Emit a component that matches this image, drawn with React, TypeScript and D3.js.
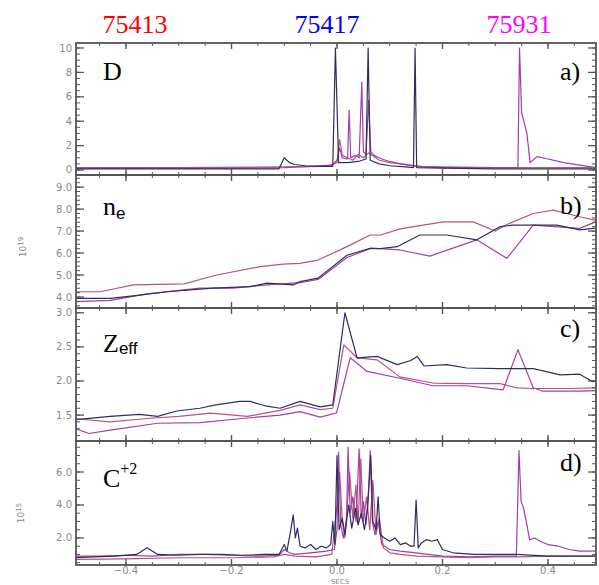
import * as d3 from "d3";

type Pt = [number, number];

// shot numbers shown at the top, and the colours used for them
const shots = ["75413", "75417", "75931"];
const shotColors = ["#ff0000", "#0000ff", "#ff00ff"];
const lineColors = ["#b8557f", "#2e2e60", "#a23ea8"];

const timeTicks = [-0.4, -0.2, 0.0, 0.2, 0.4];
const dTicks = [0, 2, 4, 6, 8, 10];
const neTicks = [4, 5, 6, 7, 8, 9];
const zTicks = [1.5, 2.0, 2.5, 3.0];
const cTicks = [2, 4, 6];

// a) D-alpha  [time s, value]
const d413: Pt[] = [
  [-0.5, 0.2], [-0.3, 0.2], [-0.1, 0.25], [-0.02, 0.3], [0.0, 0.6], [0.005, 2.5], [0.01, 1.2],
  [0.02, 1.0], [0.03, 0.8], [0.04, 1.3], [0.05, 1.0], [0.06, 1.4], [0.07, 1.1], [0.08, 0.8],
  [0.1, 0.6], [0.12, 0.5], [0.14, 0.4], [0.16, 0.3], [0.2, 0.25], [0.3, 0.2], [0.49, 0.2],
];
const d417: Pt[] = [
  [-0.5, 0.1], [-0.3, 0.1], [-0.11, 0.1], [-0.1, 1.0], [-0.095, 0.8], [-0.09, 0.6], [-0.08, 0.45],
  [-0.06, 0.35], [-0.03, 0.3], [-0.008, 0.3], [-0.003, 10], [0.003, 0.6], [0.02, 0.6], [0.04, 0.7],
  [0.055, 0.9], [0.059, 10], [0.063, 0.8], [0.08, 0.5], [0.1, 0.35], [0.13, 0.25], [0.145, 0.2],
  [0.148, 10], [0.151, 0.2], [0.2, 0.15], [0.3, 0.1], [0.49, 0.1],
];
const d931: Pt[] = [
  [-0.5, 0.15], [-0.2, 0.15], [-0.1, 0.2], [-0.05, 0.3], [-0.01, 0.4], [0.0, 0.8], [0.005, 1.8],
  [0.01, 1.0], [0.02, 0.9], [0.023, 4.9], [0.026, 1.0], [0.035, 1.2], [0.042, 1.0], [0.047, 7.2],
  [0.05, 1.5], [0.055, 1.3], [0.06, 5.7], [0.064, 1.5], [0.07, 1.2], [0.085, 0.9], [0.1, 0.7],
  [0.12, 0.5], [0.15, 0.3], [0.2, 0.2], [0.343, 0.2], [0.346, 10], [0.35, 4.7], [0.36, 3.0],
  [0.366, 0.6], [0.379, 1.1], [0.4, 0.9], [0.43, 0.6], [0.46, 0.4], [0.49, 0.2],
];

// b) n_e (10^19)
const ne413: Pt[] = [
  [-0.5, 4.24], [-0.449, 4.24], [-0.386, 4.55], [-0.29, 4.6], [-0.228, 5.0], [-0.146, 5.38],
  [-0.102, 5.5], [-0.07, 5.53], [-0.036, 5.68], [0.025, 6.36], [0.063, 6.82], [0.082, 6.82],
  [0.12, 7.1], [0.201, 7.42], [0.258, 7.42], [0.3, 7.0], [0.322, 7.3], [0.372, 7.8], [0.41, 7.95],
  [0.46, 7.65], [0.49, 7.5],
];
const ne417: Pt[] = [
  [-0.5, 3.94], [-0.43, 3.94], [-0.386, 4.05], [-0.322, 4.24], [-0.235, 4.4], [-0.165, 4.47],
  [-0.133, 4.63], [-0.083, 4.55], [-0.07, 4.7], [-0.036, 4.86], [0.019, 5.9], [0.063, 6.22],
  [0.082, 6.2], [0.114, 6.29], [0.157, 6.82], [0.208, 6.82], [0.265, 6.6], [0.309, 7.2],
  [0.334, 7.27], [0.417, 7.27], [0.46, 7.05], [0.49, 7.13],
];
const ne931: Pt[] = [
  [-0.5, 3.79], [-0.43, 3.85], [-0.36, 4.14], [-0.26, 4.4], [-0.197, 4.4], [-0.133, 4.55],
  [-0.083, 4.63], [-0.07, 4.65], [-0.036, 4.8], [0.019, 5.8], [0.063, 6.2], [0.082, 6.2],
  [0.119, 6.14], [0.176, 5.86], [0.265, 6.6], [0.322, 5.76], [0.372, 7.27], [0.46, 7.12], [0.49, 7.42],
];

// c) Z_eff
const z413: Pt[] = [
  [-0.5, 1.45], [-0.43, 1.4], [-0.36, 1.45], [-0.3, 1.48], [-0.24, 1.53], [-0.17, 1.48],
  [-0.108, 1.57], [-0.07, 1.65], [-0.032, 1.58], [-0.008, 1.6], [0.013, 2.53], [0.038, 2.34],
  [0.076, 2.31], [0.119, 2.06], [0.182, 1.97], [0.246, 1.96], [0.309, 1.96], [0.341, 1.9],
  [0.372, 1.89], [0.44, 1.89], [0.49, 1.9],
];
const z417: Pt[] = [
  [-0.5, 1.43], [-0.43, 1.48], [-0.375, 1.51], [-0.34, 1.48], [-0.304, 1.56], [-0.26, 1.6],
  [-0.23, 1.65], [-0.184, 1.7], [-0.165, 1.7], [-0.133, 1.63], [-0.108, 1.6], [-0.07, 1.7],
  [-0.032, 1.62], [-0.008, 1.65], [0.015, 3.0], [0.038, 2.34], [0.076, 2.36], [0.114, 2.24],
  [0.14, 2.3], [0.152, 2.36], [0.165, 2.22], [0.208, 2.24], [0.246, 2.19], [0.309, 2.18],
  [0.372, 2.18], [0.423, 2.09], [0.46, 2.1], [0.485, 1.99], [0.49, 2.0],
];
const z931: Pt[] = [
  [-0.5, 1.31], [-0.47, 1.23], [-0.43, 1.28], [-0.34, 1.38], [-0.26, 1.39], [-0.18, 1.45],
  [-0.108, 1.5], [-0.07, 1.55], [-0.032, 1.47], [-0.001, 1.53], [0.025, 2.34], [0.057, 2.14],
  [0.119, 2.04], [0.182, 1.93], [0.246, 1.93], [0.315, 1.87], [0.343, 2.46], [0.372, 1.9],
  [0.39, 1.85], [0.46, 1.85], [0.49, 1.86],
];

// d) C+2 (10^15)
const c413: Pt[] = [
  [-0.5, 0.7], [-0.44, 0.72], [-0.38, 0.75], [-0.3, 0.8], [-0.2, 0.8], [-0.12, 0.85], [-0.1, 1.0],
  [-0.08, 0.9], [-0.04, 0.85], [-0.01, 1.0], [0.0, 4.0], [0.005, 6.0], [0.01, 3.0], [0.015, 2.0],
  [0.024, 6.0], [0.03, 3.2], [0.036, 5.2], [0.04, 2.8], [0.045, 6.8], [0.05, 3.0], [0.056, 4.5],
  [0.062, 2.5], [0.068, 5.5], [0.074, 2.2], [0.08, 3.2], [0.088, 1.4], [0.1, 1.1], [0.12, 1.0],
  [0.15, 0.9], [0.2, 0.85], [0.25, 0.8], [0.3, 0.85], [0.35, 0.85], [0.4, 0.9], [0.45, 0.9], [0.49, 0.9],
];
const c417: Pt[] = [
  [-0.5, 0.8], [-0.46, 0.85], [-0.42, 0.9], [-0.38, 1.0], [-0.36, 1.4], [-0.34, 1.0], [-0.3, 0.95],
  [-0.26, 1.0], [-0.22, 1.0], [-0.18, 0.95], [-0.14, 1.0], [-0.11, 1.0], [-0.1, 1.6], [-0.095, 1.2],
  [-0.088, 2.4], [-0.083, 3.4], [-0.079, 2.0], [-0.075, 2.6], [-0.07, 1.5], [-0.06, 1.4], [-0.05, 1.6],
  [-0.04, 1.3], [-0.03, 1.5], [-0.02, 1.4], [-0.012, 1.6], [-0.008, 3.0], [-0.004, 1.6], [0.0, 7.0],
  [0.004, 2.5], [0.01, 3.2], [0.015, 2.2], [0.022, 4.0], [0.028, 2.6], [0.035, 3.8], [0.04, 2.8],
  [0.046, 3.5], [0.052, 2.5], [0.058, 3.8], [0.064, 7.0], [0.068, 3.0], [0.074, 2.5], [0.078, 4.5],
  [0.082, 2.2], [0.09, 2.0], [0.1, 1.8], [0.11, 2.0], [0.12, 1.6], [0.13, 1.7], [0.14, 1.5],
  [0.146, 1.5], [0.15, 4.3], [0.154, 1.4], [0.16, 1.7], [0.17, 1.9], [0.18, 1.8], [0.19, 1.9],
  [0.2, 1.3], [0.22, 1.1], [0.26, 1.0], [0.3, 1.0], [0.34, 1.0], [0.4, 0.9], [0.45, 0.9], [0.49, 0.9],
];
const c931: Pt[] = [
  [-0.5, 0.9], [-0.45, 0.9], [-0.4, 0.95], [-0.35, 0.9], [-0.3, 1.0], [-0.25, 1.0], [-0.2, 0.95],
  [-0.15, 0.9], [-0.11, 0.95], [-0.1, 1.3], [-0.09, 1.1], [-0.08, 1.0], [-0.05, 1.1], [-0.02, 1.2],
  [-0.005, 1.3], [0.0, 2.5], [0.003, 7.2], [0.007, 2.8], [0.012, 2.0], [0.018, 3.0], [0.021, 7.5],
  [0.025, 3.5], [0.03, 4.5], [0.036, 3.0], [0.042, 7.4], [0.046, 3.2], [0.05, 4.2], [0.055, 2.8],
  [0.06, 5.0], [0.063, 7.3], [0.067, 3.0], [0.072, 2.2], [0.078, 3.0], [0.085, 1.6], [0.1, 1.3],
  [0.12, 1.2], [0.15, 1.1], [0.2, 0.9], [0.25, 0.85], [0.3, 0.9], [0.34, 0.9], [0.345, 7.3],
  [0.349, 4.2], [0.353, 3.9], [0.36, 2.8], [0.365, 1.9], [0.375, 2.0], [0.385, 1.8], [0.4, 1.6],
  [0.42, 1.5], [0.44, 1.3], [0.46, 1.2], [0.49, 1.2],
];

const W = 599;
const H = 585;
const left = 76;
const right = 596;

const x = d3.scaleLinear().domain([-0.4948, 0.491]).range([left, right]);

const panels = [
  { id: "a", top: 43, bottom: 175, domain: [-0.41, 10.41], ticks: dTicks, minor: 0.5, fmt: d3.format("d"), series: [d413, d931, d417], tag: "a)", tagY: 80 },
  { id: "b", top: 175, bottom: 308, domain: [3.5, 9.55], ticks: neTicks, minor: 0.2, fmt: d3.format(".1f"), series: [ne413, ne931, ne417], tag: "b)", tagY: 214 },
  { id: "c", top: 308, bottom: 441, domain: [1.12, 3.07], ticks: zTicks, minor: 0.1, fmt: d3.format(".1f"), series: [z413, z931, z417], tag: "c)", tagY: 337 },
  { id: "d", top: 441, bottom: 565, domain: [0.36, 7.88], ticks: cTicks, minor: 0.5, fmt: d3.format(".1f"), series: [c413, c931, c417], tag: "d)", tagY: 471 },
];
const seriesColor = [lineColors[0], lineColors[2], lineColors[1]];

const grey = "#555";
const labelGrey = "#8a8a8a";

function Panel({ p }: { p: (typeof panels)[number] }) {
  const y = d3.scaleLinear().domain(p.domain).range([p.bottom, p.top]);
  const line = d3.line<Pt>().x((d) => x(d[0])).y((d) => y(d[1]));
  const minorY = d3.range(Math.ceil(p.domain[0] / p.minor) * p.minor, p.domain[1], p.minor);
  const minorX = d3.range(-0.45, 0.49, 0.05);
  return (
    <g>
      <clipPath id={`clip-${p.id}`}>
        <rect x={left} y={p.top} width={right - left} height={p.bottom - p.top} />
      </clipPath>
      <g clipPath={`url(#clip-${p.id})`}>
        {p.series.map((s, i) => (
          <path key={i} d={line(s) ?? ""} fill="none" stroke={seriesColor[i]} strokeWidth={1.2} strokeLinejoin="round" />
        ))}
      </g>
      {/* y ticks, both sides, pointing inward */}
      {minorY.map((v, i) => (
        <g key={`m${i}`} stroke={grey} strokeWidth={1}>
          <line x1={left} x2={left + 4} y1={y(v)} y2={y(v)} />
          <line x1={right} x2={right - 4} y1={y(v)} y2={y(v)} />
        </g>
      ))}
      {p.ticks.map((v) => (
        <g key={`t${v}`}>
          <line x1={left} x2={left + 8} y1={y(v)} y2={y(v)} stroke={grey} strokeWidth={1.3} />
          <line x1={right} x2={right - 8} y1={y(v)} y2={y(v)} stroke={grey} strokeWidth={1.3} />
          <text x={72} y={y(v) + 3.5} textAnchor="end" fontSize={10} fill={labelGrey} fontFamily="DejaVu Sans">
            {p.fmt(v)}
          </text>
        </g>
      ))}
      {/* x ticks on top and bottom of each panel */}
      {minorX.map((t, i) => (
        <g key={`mx${i}`} stroke={grey} strokeWidth={1}>
          <line x1={x(t)} x2={x(t)} y1={p.top} y2={p.top + 3} />
          <line x1={x(t)} x2={x(t)} y1={p.bottom} y2={p.bottom - 3} />
        </g>
      ))}
      {timeTicks.map((t) => (
        <g key={`tx${t}`} stroke={grey} strokeWidth={1.4}>
          <line x1={x(t)} x2={x(t)} y1={p.top} y2={p.top + 6} />
          <line x1={x(t)} x2={x(t)} y1={p.bottom} y2={p.bottom - 6} />
        </g>
      ))}
      <rect x={left} y={p.top} width={right - left} height={p.bottom - p.top} fill="none" stroke={grey} strokeWidth={1.8} />
      <text x={560} y={p.tagY} fontSize={26} fontFamily="Liberation Serif, serif" fill="#000">
        {p.tag}
      </text>
    </g>
  );
}

export default function App() {
  const titleX = [135, 327, 519];
  const last = panels[panels.length - 1];
  return (
    <svg width={W} height={H} style={{ position: "absolute", left: 0, top: 0, background: "#fff" }}>
      {shots.map((s, i) => (
        <text key={s} x={titleX[i]} y={33} textAnchor="middle" fontSize={26} fontFamily="Liberation Serif, serif" fill={shotColors[i]}>
          {s}
        </text>
      ))}
      {panels.map((p) => (
        <Panel key={p.id} p={p} />
      ))}
      {/* panel names */}
      <g fontFamily="Liberation Serif, serif" fill="#000">
        <text x={103} y={80} fontSize={26}>D</text>
        <text x={103} y={215} fontSize={26}>
          n<tspan fontSize={17} dy={4} fontFamily="Liberation Sans, sans-serif">e</tspan>
        </text>
        <text x={103} y={352} fontSize={26}>
          Z<tspan fontSize={17} dy={2} fontFamily="Liberation Sans, sans-serif">eff</tspan>
        </text>
        <text x={103} y={487} fontSize={26}>
          C<tspan fontSize={16} dy={-13}>+2</tspan>
        </text>
      </g>
      {/* unit labels */}
      <text transform="translate(26,247) rotate(-90)" textAnchor="middle" fontSize={9} fill={labelGrey} fontFamily="DejaVu Sans">
        10<tspan fontSize={7} dy={-3}>19</tspan>
      </text>
      <text transform="translate(24,513) rotate(-90)" textAnchor="middle" fontSize={9} fill={labelGrey} fontFamily="DejaVu Sans">
        10<tspan fontSize={7} dy={-3}>15</tspan>
      </text>
      {/* time axis labels */}
      {timeTicks.map((t) => (
        <text key={t} x={x(t)} y={last.bottom + 9} textAnchor="middle" fontSize={10} fill={labelGrey} fontFamily="DejaVu Sans">
          {d3.format(".1f")(t).replace("-", "\u2212")}
        </text>
      ))}
      <text x={x(0) + 3} y={584} textAnchor="middle" fontSize={7} fill={labelGrey} fontFamily="DejaVu Sans">
        SECS
      </text>
    </svg>
  );
}
